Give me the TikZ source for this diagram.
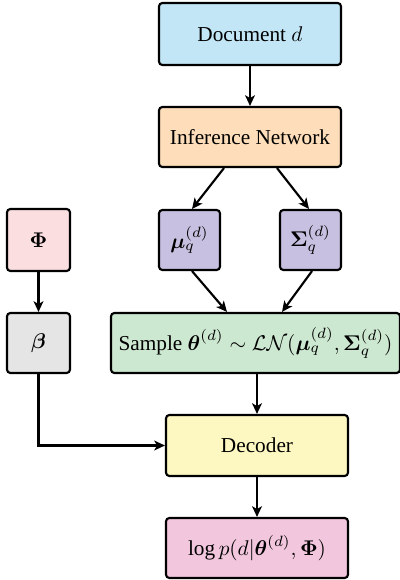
\documentclass[tikz,border=0pt]{standalone}
\usepackage{amsmath}
\usepackage{fontspec}
\setmainfont{Liberation Serif}
\usetikzlibrary{arrows.meta}
\definecolor{cdoc}{HTML}{C3E6F6}
\definecolor{cinf}{HTML}{FDDDBA}
\definecolor{cmu}{HTML}{C8C0E0}
\definecolor{cphi}{HTML}{FBDFE0}
\definecolor{cbeta}{HTML}{E5E5E5}
\definecolor{csam}{HTML}{CDE8D1}
\definecolor{cdec}{HTML}{FDF8C1}
\definecolor{clog}{HTML}{F2C7DD}
\tikzset{
  box/.style={draw=black, line width=1pt, rounded corners=1.6pt, inner sep=0pt, align=center, font=\fontsize{10}{12}\selectfont},
  arr/.style={line width=1pt, -{Stealth[length=5pt,width=4.6pt,inset=1.3pt]}},
}
\begin{document}
\begin{tikzpicture}[x=0.47pt,y=-0.47pt]
\useasboundingbox (0,0) rectangle (399,580);
\node[box, fill=cdoc, minimum width=182*0.47pt, minimum height=62*0.47pt] (doc) at (250,34) {Document $d$};
\node[box, fill=cinf, minimum width=182*0.47pt, minimum height=60*0.47pt] (inf) at (250,137) {Inference Network};
\node[box, fill=cmu, minimum width=61*0.47pt, minimum height=60*0.47pt] (mu) at (189.5,240) {$\boldsymbol{\mu}_q^{(d)}$};
\node[box, fill=cmu, minimum width=61*0.47pt, minimum height=60*0.47pt] (sig) at (310.5,240) {$\boldsymbol{\Sigma}_q^{(d)}$};
\node[box, fill=cphi, minimum width=63*0.47pt, minimum height=62*0.47pt] (phi) at (38.5,240) {$\boldsymbol{\Phi}$};
\node[box, fill=cbeta, minimum width=63*0.47pt, minimum height=60*0.47pt] (beta) at (38.5,343) {$\boldsymbol{\beta}$};
\node[box, fill=csam, minimum width=289*0.47pt, minimum height=60*0.47pt] (sam) at (255.5,343) {Sample $\boldsymbol{\theta}^{(d)} \sim \mathcal{LN}(\boldsymbol{\mu}_q^{(d)}, \boldsymbol{\Sigma}_q^{(d)})$};
\node[box, fill=cdec, minimum width=182*0.47pt, minimum height=61*0.47pt] (dec) at (257,445.5) {Decoder};
\node[box, fill=clog, minimum width=182*0.47pt, minimum height=60*0.47pt] (logp) at (257,548) {$\log p(d|\boldsymbol{\theta}^{(d)}, \boldsymbol{\Phi})$};
\draw[arr] (doc) -- (inf);
\draw[arr] ([xshift=-26*0.47pt]inf.south) -- ([xshift=2.5*0.47pt]mu.north);
\draw[arr] ([xshift=27*0.47pt]inf.south) -- ([xshift=-1.5*0.47pt]sig.north);
\draw[arr] ([xshift=2.5*0.47pt]mu.south) -- ([xshift=-28.5*0.47pt]sam.north);
\draw[arr] ([xshift=1.5*0.47pt]sig.south) -- ([xshift=26.5*0.47pt]sam.north);
\draw[arr] (phi) -- (beta);
\draw[arr] (sam.south -| dec) -- (dec);
\draw[arr] (dec) -- (logp);
\draw[arr] (beta.south) |- (dec.west);
\end{tikzpicture}
\end{document}
